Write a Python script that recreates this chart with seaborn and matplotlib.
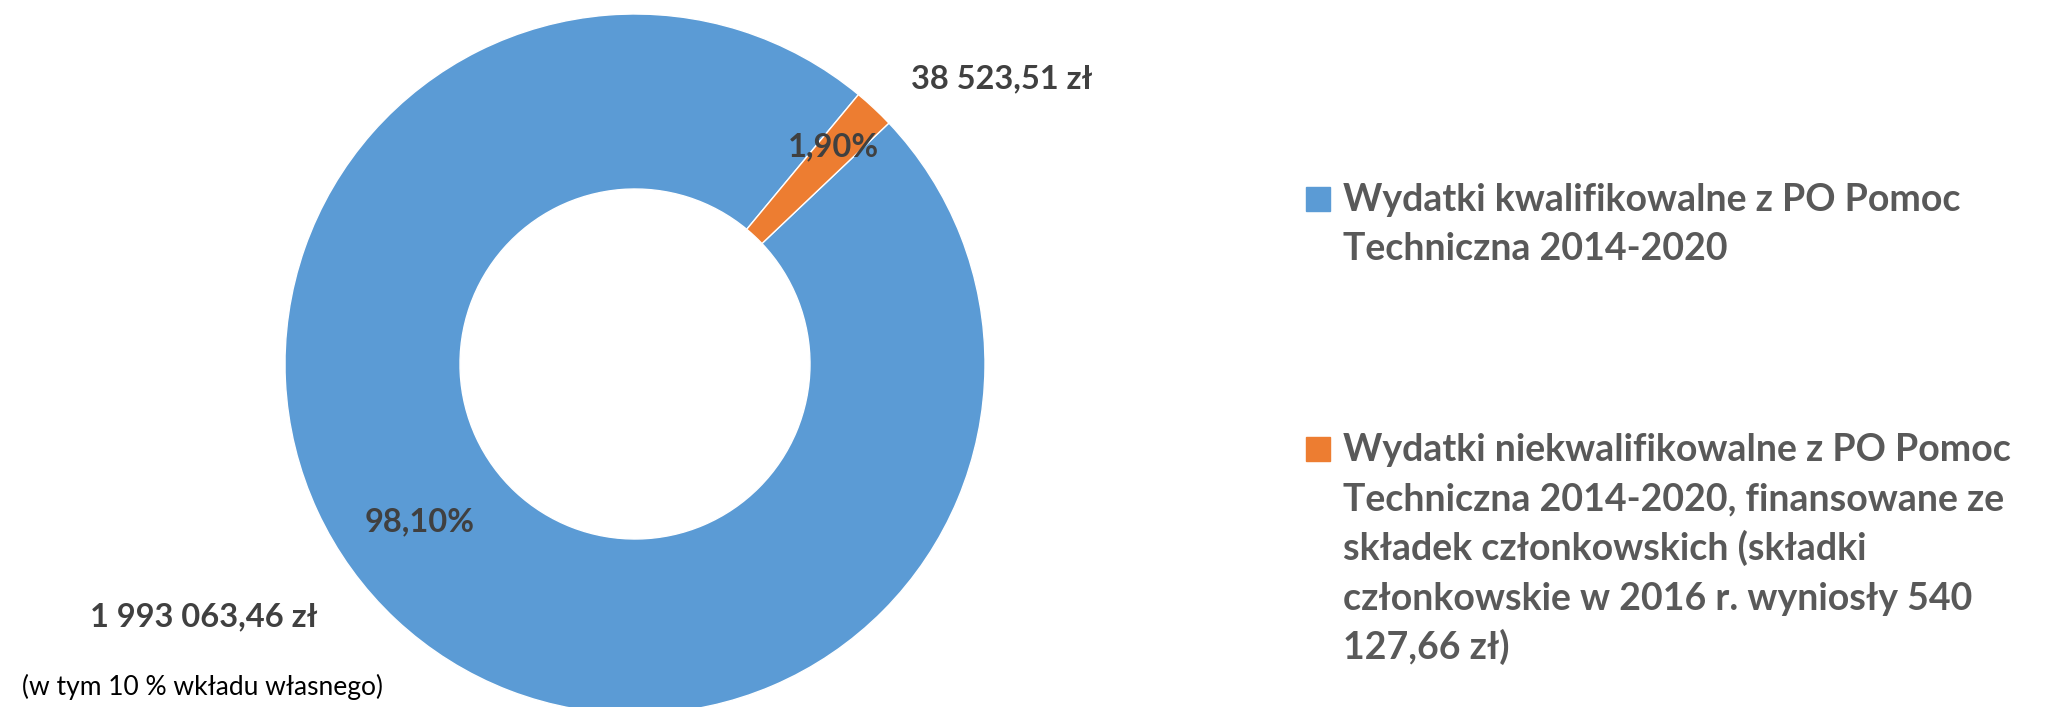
import numpy as np
import matplotlib
matplotlib.use("Agg")
import matplotlib.pyplot as plt
from matplotlib.patches import Rectangle
import seaborn as sns

# data
categories = [
    "Wydatki kwalifikowalne z PO Pomoc\nTechniczna 2014-2020",
    "Wydatki niekwalifikowalne z PO Pomoc\nTechniczna 2014-2020, finansowane ze\nskładek członkowskich (składki\nczłonkowskie w 2016 r. wyniosły 540\n127,66 zł)",
]
amounts = [1993063.46, 38523.51]
colors = ["#5B9BD5", "#ED7D31"]

sns.set_theme(style="white")
plt.rcParams["font.family"] = ["Lato", "DejaVu Sans"]

W, H = 2062, 707
fig = plt.figure(figsize=(W / 100, H / 100), dpi=100)

# donut axes: centre (635, 364) px, radius 350 px
cx, cy, r = 635, 364, 350
ax = fig.add_axes([(cx - r) / W, (H - cy - r) / H, 2 * r / W, 2 * r / H])
ax.pie(amounts, colors=colors, startangle=43.5, counterclock=False,
       radius=1, wedgeprops=dict(width=0.5, edgecolor="white", linewidth=1))
ax.set_xlim(-1, 1)
ax.set_ylim(-1, 1)
ax.set_aspect("equal")
ax.axis("off")

def pl(v):
    s = f"{v:,.2f}".replace(",", " ").replace(".", ",")
    return s + " zł"

total = sum(amounts)
pcts = [f"{a / total * 100:.2f}%".replace(".", ",") for a in amounts]

lab_col = "#404040"
fs = 23.5
ax.text(-0.614, -0.451, pcts[0], ha="center", va="center", fontsize=fs,
        fontweight="bold", color=lab_col)
ax.text(0.566, 0.62, pcts[1], ha="center", va="center", fontsize=fs,
        fontweight="bold", color=lab_col)
ax.text(1.049, 0.814, pl(amounts[1]), ha="center", va="center", fontsize=fs,
        fontweight="bold", color=lab_col)
ax.text(-1.231, -0.723, pl(amounts[0]), ha="center", va="center", fontsize=fs,
        fontweight="bold", color=lab_col)
ax.text(-1.237, -0.923, "(w tym 10 % wkładu własnego)", ha="center", va="center",
        fontsize=19, color="black")

# legend drawn by hand, square aligned with first line
leg_y = [211, 461]
step = 49.5
for lab, col, yb in zip(categories, colors, leg_y):
    fig.patches.append(Rectangle((1306 / W, (H - yb) / H), 24 / W, 24 / H,
                                 transform=fig.transFigure, color=col))
    for i, line in enumerate(lab.split("\n")):
        fig.text(1343 / W, (H - yb - i * step) / H, line, ha="left", va="baseline",
                 fontsize=27, fontweight="bold", color="#595959")

fig.savefig("out.png", dpi=100)
